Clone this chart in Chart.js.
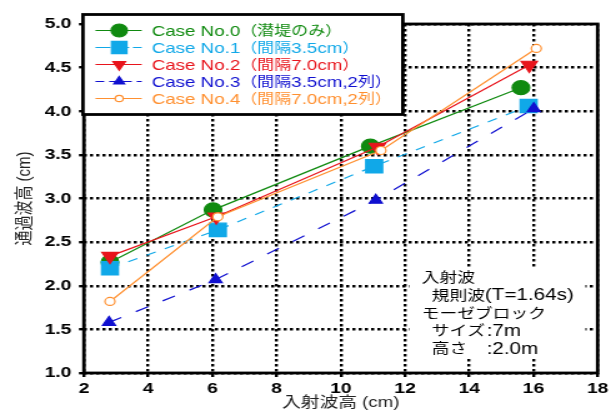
<!DOCTYPE html>
<html>
<head>
<meta charset="utf-8">
<script src="https://cdn.jsdelivr.net/npm/chart.js@4.4.1/dist/chart.umd.min.js"></script>
<style>
  html, body { margin: 0; padding: 0; background: #fff; overflow: hidden; }
  /* the original figure is stretched sideways, so draw narrow and widen */
  #wrap { width: 489px; height: 417px; transform: scaleX(1.2495); transform-origin: 0 0; }
</style>
</head>
<body>
<div id="wrap"><canvas id="waveChart"></canvas></div>
<script>
// data (x: 入射波高 cm, y: 通過波高 cm)
const labels = ['Case No.0（潜堤のみ）', 'Case No.1（間隔3.5cm）', 'Case No.2（間隔7.0cm）',
    'Case No.3（間隔3.5cm,2列）', 'Case No.4（間隔7.0cm,2列）'];
const case0X = [2.81, 6.02, 10.92, 15.61];
const case0Y = [2.27, 2.87, 3.60, 4.27];
const case1X = [2.81, 6.17, 11.04, 15.85];
const case1Y = [2.20, 2.64, 3.37, 4.06];
const case2X = [2.81, 6.12, 11.14, 15.87];
const case2Y = [2.34, 2.79, 3.59, 4.53];
const case3X = [2.78, 6.10, 11.09, 16.01];
const case3Y = [1.58, 2.07, 2.98, 4.03];
const case4X = [2.81, 6.17, 11.25, 16.09];
const case4Y = [1.82, 2.79, 3.55, 4.72];
const xTicks = [2, 4, 6, 8, 10, 12, 14, 16, 18];
const yTicks = [1.0, 1.5, 2.0, 2.5, 3.0, 3.5, 4.0, 4.5, 5.0];
const noteLines = ['入射波', '規則波(T=1.64s)', 'モーゼブロック', 'サイズ', '高さ'];
const noteValues = ['', '', '', ':7m', ':2.0m'];
const noteIndent = [0, 1, 0, 1, 1];

const FONT = '"Liberation Sans", Arial, "Noto Sans CJK JP", sans-serif';
const CJK = /[\u3000-\u9fff\uff00-\uffef]/;

function pts(xs, ys) {
    return xs.map((x, i) => ({ x: x, y: ys[i] }));
}

// draw text with latin and japanese runs at their own sizes
function drawMixed(ctx, text, x, y, latinPx, cjkPx) {
    let run = '', runCjk = null;
    const flush = () => {
        if (!run) return;
        ctx.font = (runCjk ? cjkPx : latinPx) + 'px ' + FONT;
        ctx.fillText(run, x, y);
        x += ctx.measureText(run).width;
        run = '';
    };
    for (const ch of text) {
        const c = CJK.test(ch);
        if (runCjk !== null && c !== runCjk) flush();
        runCjk = c;
        run += ch;
    }
    flush();
}

const datasets = [
    { label: labels[0], data: pts(case0X, case0Y), borderColor: '#108a10', backgroundColor: '#108a10',
      pointStyle: 'circle', pointRadius: 7, legendRadius: 6.5, borderDash: [], legendDash: [] },
    { label: labels[1], data: pts(case1X, case1Y), borderColor: '#10a8e8', backgroundColor: '#10a8e8',
      pointStyle: 'rect', pointRadius: 9.5, legendRadius: 8.7, borderDash: [8, 8], legendDash: [12, 3] },
    { label: labels[2], data: pts(case2X, case2Y), borderColor: '#e8141c', backgroundColor: '#e8141c',
      pointStyle: 'triangle', pointRotation: 180, pointRadius: 7.5, legendRadius: 5.8, borderDash: [], legendDash: [] },
    { label: labels[3], data: pts(case3X, case3Y), borderColor: '#1010d0', backgroundColor: '#1010d0',
      pointStyle: 'triangle', pointRadius: 6, legendRadius: 5, borderDash: [11, 13], legendDash: [7, 4] },
    { label: labels[4], data: pts(case4X, case4Y), borderColor: '#ff9030', backgroundColor: '#ffffff',
      pointStyle: 'circle', pointRadius: 4, legendRadius: 3.2, borderDash: [], legendDash: [] },
].map((d, i) => Object.assign(d, {
    showLine: true,
    fill: false,
    tension: 0,
    borderWidth: 1.2,
    order: 4 - i,
    pointBorderColor: d.borderColor,
    pointBackgroundColor: d.backgroundColor,
    pointBorderWidth: 1.2,
}));

// plot frame, drawn over the grid
const framePlugin = {
    id: 'frame',
    beforeDatasetsDraw(chart) {
        const { ctx, chartArea: a } = chart;
        ctx.save();
        ctx.lineWidth = 2.8;
        ctx.strokeStyle = '#000';
        ctx.strokeRect(a.left, a.top, a.right - a.left, a.bottom - a.top);
        ctx.restore();
    }
};

// boxed legend in the upper left, text coloured like the series
const legendPlugin = {
    id: 'boxLegend',
    afterDraw(chart) {
        const ctx = chart.ctx;
        const a = chart.chartArea;
        const bx = a.left - 0.8, by = 14.5, bw = 256, bh = 100;
        ctx.save();
        ctx.fillStyle = '#fff';
        ctx.fillRect(bx, by, bw, bh);
        ctx.lineWidth = 2.8;
        ctx.strokeStyle = '#000';
        ctx.strokeRect(bx, by, bw, bh);
        ctx.textBaseline = 'middle';
        chart.data.datasets.forEach((ds, i) => {
            const y = by + 16 + i * 17;
            ctx.strokeStyle = ds.borderColor;
            ctx.lineWidth = 1.2;
            ctx.setLineDash(ds.legendDash);
            ctx.beginPath();
            ctx.moveTo(bx + 10, y);
            ctx.lineTo(bx + 47, y);
            ctx.stroke();
            ctx.setLineDash([]);
            ctx.fillStyle = ds.pointBackgroundColor;
            ctx.strokeStyle = ds.pointBorderColor;
            Chart.helpers.drawPoint(ctx, {
                pointStyle: ds.pointStyle,
                radius: ds.legendRadius,
                rotation: ds.pointRotation || 0,
                borderWidth: 1.2
            }, bx + 29, y);
            ctx.fillStyle = ds.borderColor;
            drawMixed(ctx, ds.label, bx + 55, y + 1, 15, 13.6);
        });
        ctx.restore();
    }
};

// condition note, white backed, lower right
const notePlugin = {
    id: 'note',
    afterDraw(chart) {
        const ctx = chart.ctx;
        ctx.save();
        ctx.fillStyle = '#fff';
        ctx.fillRect(327.5, 268, 141, 90);
        ctx.fillStyle = '#000';
        ctx.textBaseline = 'middle';
        noteLines.forEach((t, i) => {
            const y = 278 + i * 17.8;
            drawMixed(ctx, t, noteIndent[i] ? 345.5 : 337.5, y, 16.5, 14.2);
            if (noteValues[i]) drawMixed(ctx, noteValues[i], 389.5, y, 16.5, 14.2);
        });
        ctx.restore();
    }
};

new Chart(document.getElementById('waveChart'), {
    type: 'scatter',
    data: { datasets: datasets },
    plugins: [framePlugin, legendPlugin, notePlugin],
    options: {
        responsive: true,
        maintainAspectRatio: false,
        animation: false,
        layout: { padding: { top: 24, right: 9, left: 0, bottom: 0 } },
        plugins: {
            legend: { display: false },
            tooltip: { enabled: false }
        },
        scales: {
            x: {
                type: 'linear',
                min: xTicks[0],
                max: xTicks[xTicks.length - 1],
                afterBuildTicks: (s) => { s.ticks = xTicks.map(v => ({ value: v })); },
                afterFit: (s) => { s.height = 44; },
                ticks: {
                    color: '#000',
                    padding: 2,
                    maxRotation: 0,
                    font: { family: FONT, size: 15.5, weight: 'bold' }
                },
                grid: { color: '#000', lineWidth: 2.4, tickLength: 4 },
                border: { display: false, dash: [2.5, 2.5] },
                title: {
                    display: true,
                    text: '入射波高 (cm)',
                    color: '#222',
                    padding: { top: 1, bottom: 5 },
                    font: { family: FONT, size: 15 }
                }
            },
            y: {
                type: 'linear',
                min: yTicks[0],
                max: yTicks[yTicks.length - 1],
                afterBuildTicks: (s) => { s.ticks = yTicks.map(v => ({ value: v })); },
                afterFit: (s) => { s.width = 67.2; },
                ticks: {
                    color: '#000',
                    padding: 6,
                    callback: (v) => Number(v).toFixed(1),
                    font: { family: FONT, size: 15.5, weight: 'bold' }
                },
                grid: { color: '#000', lineWidth: 2.4, tickLength: 4 },
                border: { display: false, dash: [2.5, 2.5] },
                title: {
                    display: true,
                    text: '通過波高 (cm)',
                    color: '#222',
                    padding: { top: 11, bottom: 0 },
                    font: { family: FONT, size: 15 }
                }
            }
        }
    }
});
</script>
</body>
</html>
